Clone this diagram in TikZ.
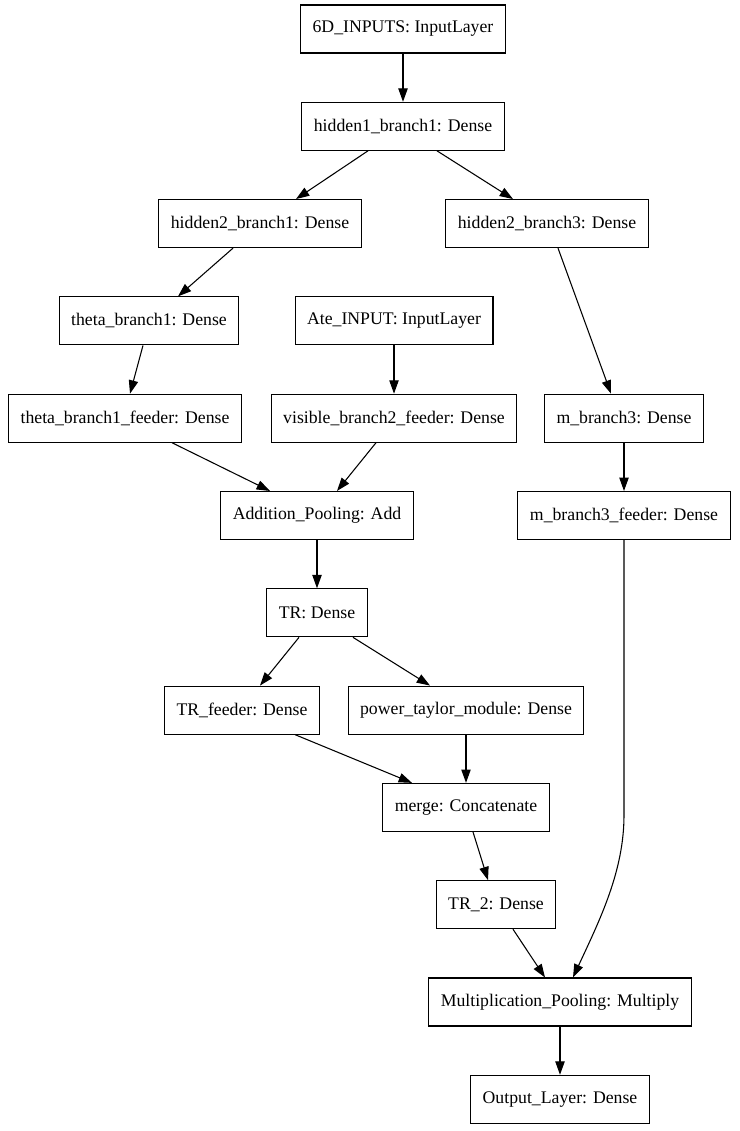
\documentclass[tikz,border=0pt]{standalone}
\usepackage{fontspec}
\setmainfont{Liberation Serif}
\usetikzlibrary{arrows.meta,calc}
\begin{document}
\begin{tikzpicture}[x=0.75pt,y=-0.75pt,
  layer/.style={draw,line width=0.8pt,rectangle,minimum height=36pt,inner xsep=9pt,inner ysep=0pt,font=\fontsize{13.3}{15}\selectfont},
  edge/.style={draw,line width=0.8pt,-{Triangle[length=10pt,width=7pt]}}]
\path[use as bounding box,fill=white] (0,0) rectangle (739,1131);
\node[layer] (in6d) at (403,29) {6D\_INPUTS: InputLayer};
\node[layer] (hid1) at (403,126.3) {hidden1\_branch1: Dense};
\node[layer] (hid2a) at (260,223.6) {hidden2\_branch1: Dense};
\node[layer] (hid2c) at (547,223.6) {hidden2\_branch3: Dense};
\node[layer] (theta) at (149,320.9) {theta\_branch1: Dense};
\node[layer] (ate) at (394,320.9) {Ate\_INPUT: InputLayer};
\node[layer] (thetaf) at (125,418.2) {theta\_branch1\_feeder: Dense};
\node[layer] (visf) at (394,418.2) {visible\_branch2\_feeder: Dense};
\node[layer] (mb3) at (624,418.2) {m\_branch3: Dense};
\node[layer] (add) at (317,515.5) {Addition\_Pooling: Add};
\node[layer] (mb3f) at (624,515.5) {m\_branch3\_feeder: Dense};
\node[layer] (tr) at (317,612.8) {TR: Dense};
\node[layer] (trf) at (242,710.1) {TR\_feeder: Dense};
\node[layer] (pt) at (466,710.1) {power\_taylor\_module: Dense};
\node[layer] (merge) at (466,807.4) {merge: Concatenate};
\node[layer] (tr2) at (496,904.7) {TR\_2: Dense};
\node[layer] (mult) at (560,1002) {Multiplication\_Pooling: Multiply};
\node[layer] (out) at (560,1099.3) {Output\_Layer: Dense};

\draw[edge] (in6d.south) -- (hid1.north);
\draw[edge] ($(hid1.south)+(-35,0)$) -- ($(hid2a.north)+(36,0)$);
\draw[edge] ($(hid1.south)+(34,0)$) -- ($(hid2c.north)+(-34,0)$);
\draw[edge] ($(hid2a.south)+(-27,0)$) -- ($(theta.north)+(29,0)$);
\draw[edge] ($(hid2c.south)+(11,0)$) -- ($(mb3.north)+(-13,0)$);
\draw[edge] ($(theta.south)+(-6,0)$) -- ($(thetaf.north)+(5,0)$);
\draw[edge] (ate.south) -- (visf.north);
\draw[edge] (mb3.south) -- (mb3f.north);
\draw[edge] ($(thetaf.south)+(47,0)$) -- ($(add.north)+(-47,0)$);
\draw[edge] ($(visf.south)+(-18,0)$) -- ($(add.north)+(20,0)$);
\draw[edge] (add.south) -- (tr.north);
\draw[edge] ($(tr.south)+(-18,0)$) -- ($(trf.north)+(18,0)$);
\draw[edge] ($(tr.south)+(36,0)$) -- ($(pt.north)+(-36,0)$);
\draw[edge] ($(trf.south)+(53,0)$) -- ($(merge.north)+(-54,0)$);
\draw[edge] (pt.south) -- (merge.north);
\draw[edge] ($(merge.south)+(7,0)$) -- ($(tr2.north)+(-8,0)$);
\draw[edge] ($(tr2.south)+(17,0)$) -- ($(mult.north)+(-15,0)$);
\draw[edge] (mb3f.south) -- ($(mb3f.south)+(0,275)$) .. controls ($(mb3f.south)+(0,331)$) and ($(mult.north)+(40,-58)$) .. ($(mult.north)+(13,0)$);
\draw[edge] (mult.south) -- (out.north);
\end{tikzpicture}
\end{document}
